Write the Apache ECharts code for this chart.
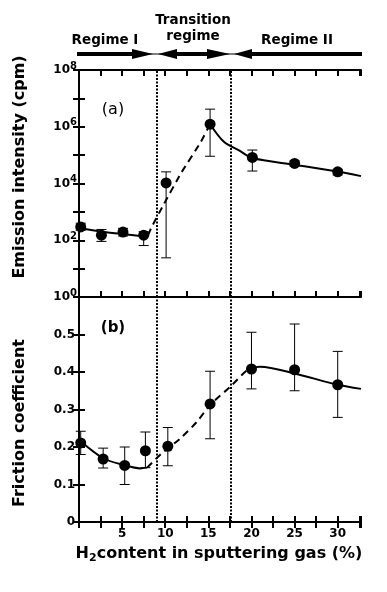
<!DOCTYPE html>
<html><head><meta charset="utf-8">
<script src="https://cdn.jsdelivr.net/npm/echarts@6/dist/echarts.min.js"></script>
<style>html,body{margin:0;padding:0;background:#fff}#c{width:387px;height:592px}</style>
</head><body><div id="c"></div>
<script>
// ---- data ----
const xA = [0.2, 2.6, 5.1, 7.5, 10.1, 15.2, 20.1, 25.0, 30.0];
const emission = [295, 151, 195, 151, 10500, 1230000, 83000, 51000, 25700];
const emissionLo = [224, 91, 141, 65, 24, 91200, 27500, 41700, 20000];
const emissionHi = [398, 240, 263, 200, 25700, 4170000, 151000, 63000, 31600];

const xB = [0.2, 2.8, 5.3, 7.7, 10.3, 15.2, 20.0, 25.0, 30.0];
const friction = [0.211, 0.168, 0.151, 0.19, 0.202, 0.315, 0.408, 0.406, 0.366];
const frictionLo = [0.18, 0.144, 0.10, 0.145, 0.15, 0.222, 0.355, 0.35, 0.279];
const frictionHi = [0.242, 0.197, 0.20, 0.24, 0.252, 0.402, 0.506, 0.528, 0.455];

// fitted guide curves
const fitA1 = [[0.05, 269], [2.6, 200], [5.1, 166], [7.5, 141], [8.0, 150]];
const fitA2 = [[8.0, 150], [8.4, 282], [9.8, 1780], [11.8, 22400], [14.1, 282000], [15.2, 1230000]];
const fitA3 = [[15.2, 1230000], [16.8, 295000], [18.5, 151000], [20.1, 79000], [25.0, 45700], [30.0, 26300], [32.7, 18200]];
const fitB1 = [[0.05, 0.218], [2.8, 0.17], [5.2, 0.152], [7.1, 0.143], [7.9, 0.145]];
const fitB2 = [[7.9, 0.145], [9.45, 0.18], [11.8, 0.224], [13.7, 0.268], [15.25, 0.313], [17.6, 0.362], [19.5, 0.405], [20.4, 0.413]];
const fitB3 = [[20.4, 0.413], [21.0, 0.414], [25.0, 0.396], [30.0, 0.366], [32.7, 0.355]];

const regimeBounds = [9.0, 17.6];
const xTickLabels = [5, 10, 15, 20, 25, 30];
const yTickLabelsB = [0, 0.1, 0.2, 0.3, 0.4, 0.5];

// ---- chart ----
const FONT = "'DejaVu Sans', sans-serif";
const chart = echarts.init(document.getElementById('c'), null, {renderer: 'canvas'});

function errRender(params, api) {
  const x = api.value(0), lo = api.value(1), hi = api.value(2);
  const p1 = api.coord([x, lo]), p2 = api.coord([x, hi]);
  const w = 5, st = {stroke: '#000', lineWidth: 1};
  return {type: 'group', children: [
    {type: 'line', shape: {x1: p1[0], y1: p1[1], x2: p2[0], y2: p2[1]}, style: st},
    {type: 'line', shape: {x1: p1[0] - w, y1: p1[1], x2: p1[0] + w, y2: p1[1]}, style: st},
    {type: 'line', shape: {x1: p2[0] - w, y1: p2[1], x2: p2[0] + w, y2: p2[1]}, style: st}
  ]};
}

const xBase = {
  type: 'value', min: 0, max: 32.7, interval: 2.5,
  axisLine: {show: true, lineStyle: {color: '#000', width: 2}},
  axisTick: {show: true, inside: true, length: 6, lineStyle: {color: '#000', width: 2}},
  splitLine: {show: false}, axisLabel: {show: false}
};
const tickStyle = {show: true, inside: true, length: 6, lineStyle: {color: '#000', width: 2}};
const lineAx = {show: true, lineStyle: {color: '#000', width: 2}};

const markDotted = {
  symbol: 'none', silent: true, label: {show: false},
  lineStyle: {color: '#000', type: [2, 1.5], width: 2},
  data: regimeBounds.map(v => ({xAxis: v}))
};

const option = {
  animation: false,
  backgroundColor: '#fff',
  textStyle: {fontFamily: FONT},
  grid: [
    {left: 79, right: 26, top: 70, height: 227},
    {left: 79, right: 26, top: 297, height: 225}
  ],
  xAxis: [
    Object.assign({}, xBase, {gridIndex: 0, position: 'bottom'}),
    Object.assign({}, xBase, {gridIndex: 0, position: 'top'}),
    Object.assign({}, xBase, {gridIndex: 1, position: 'top'}),
    Object.assign({}, xBase, {gridIndex: 1, position: 'bottom',
      axisLabel: {show: true, margin: 6, color: '#000', fontFamily: FONT, fontWeight: 'bold', fontSize: 12,
        formatter: v => xTickLabels.indexOf(v) >= 0 ? String(v) : ''}})
  ],
  yAxis: [
    {type: 'log', gridIndex: 0, min: 1, max: 1e8, logBase: 10, splitNumber: 8, position: 'left',
      axisLine: lineAx, axisTick: tickStyle, splitLine: {show: false}, minorTick: {show: false},
      axisLabel: {show: true, margin: 2, color: '#000', fontFamily: FONT,
        formatter: v => { const e = Math.round(Math.log10(v)); return e % 2 === 0 ? '{b|10}{s|' + e + '}' : ''; },
        rich: {b: {fontSize: 12, fontWeight: 'bold', fontFamily: FONT, color: '#000', lineHeight: 16},
               s: {fontSize: 10, fontWeight: 'bold', fontFamily: FONT, color: '#000', verticalAlign: 'top', padding: [0, 0, 8, 0]}}}},
    {type: 'log', gridIndex: 0, min: 1, max: 1e8, logBase: 10, splitNumber: 8, position: 'right',
      axisLine: lineAx, axisTick: tickStyle, splitLine: {show: false}, axisLabel: {show: false}},
    {type: 'value', gridIndex: 1, min: 0, max: 0.6, interval: 0.1, position: 'left',
      axisLine: lineAx, axisTick: tickStyle, splitLine: {show: false},
      axisLabel: {show: true, margin: 4, color: '#000', fontFamily: FONT, fontWeight: 'bold', fontSize: 12,
        formatter: v => { const r = Math.round(v * 10) / 10; return yTickLabelsB.indexOf(r) >= 0 ? String(r) : ''; }}},
    {type: 'value', gridIndex: 1, min: 0, max: 0.6, interval: 0.1, position: 'right',
      axisLine: lineAx, axisTick: tickStyle, splitLine: {show: false}, axisLabel: {show: false}}
  ],
  series: [
    // panel (a)
    {type: 'line', xAxisIndex: 0, yAxisIndex: 0, data: fitA1, smooth: 0.3, symbol: 'none',
      lineStyle: {color: '#000', width: 2}, markLine: markDotted, z: 3},
    {type: 'line', xAxisIndex: 0, yAxisIndex: 0, data: fitA2, smooth: 0.1, symbol: 'none',
      lineStyle: {color: '#000', width: 2, type: [7, 5]}, z: 3},
    {type: 'line', xAxisIndex: 0, yAxisIndex: 0, data: fitA3, smooth: 0.3, symbol: 'none',
      lineStyle: {color: '#000', width: 2}, z: 3},
    {type: 'custom', xAxisIndex: 0, yAxisIndex: 0, renderItem: errRender,
      data: xA.map((x, i) => [x, emissionLo[i], emissionHi[i]]), z: 4},
    {type: 'scatter', xAxisIndex: 0, yAxisIndex: 0, symbol: 'circle', symbolSize: 11,
      itemStyle: {color: '#000', opacity: 1}, data: xA.map((x, i) => [x, emission[i]]), z: 5},
    // panel (b)
    {type: 'line', xAxisIndex: 3, yAxisIndex: 2, data: fitB1, smooth: 0.3, symbol: 'none',
      lineStyle: {color: '#000', width: 2}, markLine: markDotted, z: 3},
    {type: 'line', xAxisIndex: 3, yAxisIndex: 2, data: fitB2, smooth: 0.3, symbol: 'none',
      lineStyle: {color: '#000', width: 2, type: [7, 5]}, z: 3},
    {type: 'line', xAxisIndex: 3, yAxisIndex: 2, data: fitB3, smooth: 0.3, symbol: 'none',
      lineStyle: {color: '#000', width: 2}, z: 3},
    {type: 'custom', xAxisIndex: 3, yAxisIndex: 2, renderItem: errRender,
      data: xB.map((x, i) => [x, frictionLo[i], frictionHi[i]]), z: 4},
    {type: 'scatter', xAxisIndex: 3, yAxisIndex: 2, symbol: 'circle', symbolSize: 11,
      itemStyle: {color: '#000', opacity: 1}, data: xB.map((x, i) => [x, friction[i]]), z: 5}
  ],
  graphic: [
    // regime arrows
    {type: 'line', shape: {x1: 77, y1: 54, x2: 362, y2: 54}, style: {stroke: '#000', lineWidth: 1}},
    {type: 'line', shape: {x1: 77, y1: 54, x2: 133, y2: 54}, style: {stroke: '#000', lineWidth: 4}},
    {type: 'line', shape: {x1: 176, y1: 54, x2: 208, y2: 54}, style: {stroke: '#000', lineWidth: 4}},
    {type: 'line', shape: {x1: 251, y1: 54, x2: 362, y2: 54}, style: {stroke: '#000', lineWidth: 4}},
    {type: 'polygon', shape: {points: [[132, 49], [153, 54], [132, 59]]}, style: {fill: '#000'}},
    {type: 'polygon', shape: {points: [[158, 54], [177, 49], [177, 59]]}, style: {fill: '#000'}},
    {type: 'polygon', shape: {points: [[207, 49], [230, 54], [207, 59]]}, style: {fill: '#000'}},
    {type: 'polygon', shape: {points: [[234, 54], [252, 49], [252, 59]]}, style: {fill: '#000'}},
    {type: 'text', x: 105, y: 40, style: {text: 'Regime I', fontFamily: FONT, fontSize: 13.5, fontWeight: 'bold', fill: '#000', align: 'center', verticalAlign: 'middle'}},
    {type: 'text', x: 193, y: 20, style: {text: 'Transition', fontFamily: FONT, fontSize: 13.5, fontWeight: 'bold', fill: '#000', align: 'center', verticalAlign: 'middle'}},
    {type: 'text', x: 193, y: 36, style: {text: 'regime', fontFamily: FONT, fontSize: 13.5, fontWeight: 'bold', fill: '#000', align: 'center', verticalAlign: 'middle'}},
    {type: 'text', x: 297, y: 40, style: {text: 'Regime II', fontFamily: FONT, fontSize: 13.5, fontWeight: 'bold', fill: '#000', align: 'center', verticalAlign: 'middle'}},
    // panel labels
    {type: 'text', x: 113, y: 110, style: {text: '(a)', fontFamily: FONT, fontSize: 16, fill: '#000', align: 'center', verticalAlign: 'middle'}},
    {type: 'text', x: 113, y: 328, style: {text: '(b)', fontFamily: FONT, fontSize: 15, fontWeight: 'bold', fill: '#000', align: 'center', verticalAlign: 'middle'}},
    // axis titles
    {type: 'text', x: 20, y: 167, rotation: Math.PI / 2, style: {text: 'Emission intensity (cpm)', fontFamily: FONT, fontSize: 16, fontWeight: 'bold', fill: '#000', align: 'center', verticalAlign: 'middle'}},
    {type: 'text', x: 20, y: 423, rotation: Math.PI / 2, style: {text: 'Friction coefficient', fontFamily: FONT, fontSize: 16, fontWeight: 'bold', fill: '#000', align: 'center', verticalAlign: 'middle'}},
    {type: 'text', x: 219, y: 554, style: {text: '{a|H}{s|2}{a|content in sputtering gas (%)}', fill: '#000', align: 'center', verticalAlign: 'middle',
      rich: {a: {fontFamily: FONT, fontSize: 16, fontWeight: 'bold', fill: '#000', lineHeight: 20},
             s: {fontFamily: FONT, fontSize: 11, fontWeight: 'bold', fill: '#000', verticalAlign: 'bottom', padding: [8, 0, 0, 0]}}}}
  ]
};
chart.setOption(option);
</script></body></html>
